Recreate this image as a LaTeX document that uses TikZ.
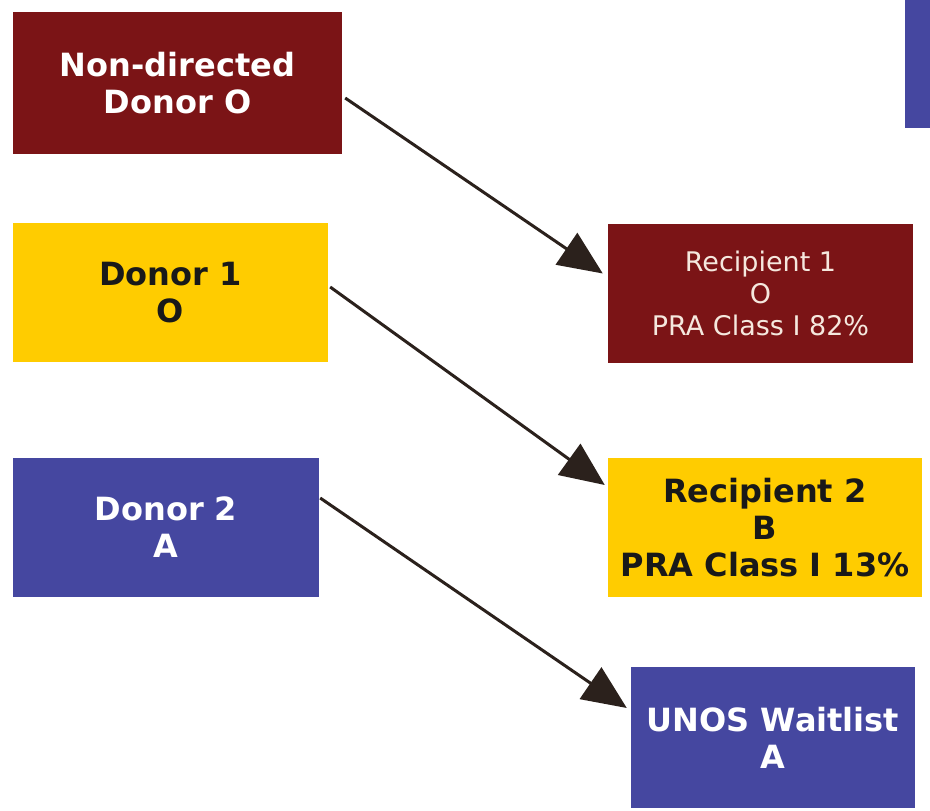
\documentclass[tikz,border=0pt]{standalone}
\usepackage{fontspec}
\setmainfont{DejaVu Sans}
\usetikzlibrary{arrows.meta}
\definecolor{dred}{HTML}{7B1416}
\definecolor{gold}{HTML}{FFCC00}
\definecolor{dblue}{HTML}{4547A0}
\definecolor{arrowc}{HTML}{2B211C}
\definecolor{paletext}{HTML}{F5E8DE}
\begin{document}
\begin{tikzpicture}[x=1pt,y=-1pt,
  boxbase/.style={rectangle, inner sep=0pt, align=center,
    font=\fontsize{32}{37}\selectfont\bfseries},
  redbox/.style={boxbase, fill=dred, text=white},
  goldbox/.style={boxbase, fill=gold, text=black!90},
  bluebox/.style={boxbase, fill=dblue, text=white},
  conn/.style={draw=arrowc, line width=3pt,
    -{Triangle[length=44pt,width=38pt]}}]
\useasboundingbox (0,0) rectangle (930,811);

\node[bluebox, minimum width=30pt, minimum height=133pt] (partial) at (920,61.5) {};

\node[redbox, minimum width=329pt, minimum height=142pt] (nd) at (177.5,83)
  {Non-directed\\Donor O};
\node[goldbox, minimum width=315pt, minimum height=139pt] (d1) at (170.5,292.5)
  {Donor 1\\O};
\node[bluebox, minimum width=306pt, minimum height=139pt] (d2) at (166,527.5)
  {Donor 2\\A};

\node[redbox, text=paletext, minimum width=305pt, minimum height=139pt,
  font=\fontsize{27}{32}\selectfont\mdseries] (r1) at (760.5,293.5)
  {Recipient 1\\O\\PRA Class I 82\%};
\node[goldbox, minimum width=314pt, minimum height=139pt] (r2) at (765,527.5)
  {Recipient 2\\B\\PRA Class I 13\%};
\node[bluebox, minimum width=284pt, minimum height=141pt] (un) at (773,737.5)
  {UNOS Waitlist\\A};

\draw[conn] ([xshift=3pt,yshift=-15pt]nd.east) -- ([xshift=-5pt,yshift=20pt]r1.west);
\draw[conn] ([xshift=2pt,yshift=5.5pt]d1.east) -- ([xshift=-3pt,yshift=42.5pt]r2.west);
\draw[conn] ([xshift=1pt,yshift=29.5pt]d2.east) -- ([xshift=-4pt,yshift=29.5pt]un.west);
\end{tikzpicture}
\end{document}
